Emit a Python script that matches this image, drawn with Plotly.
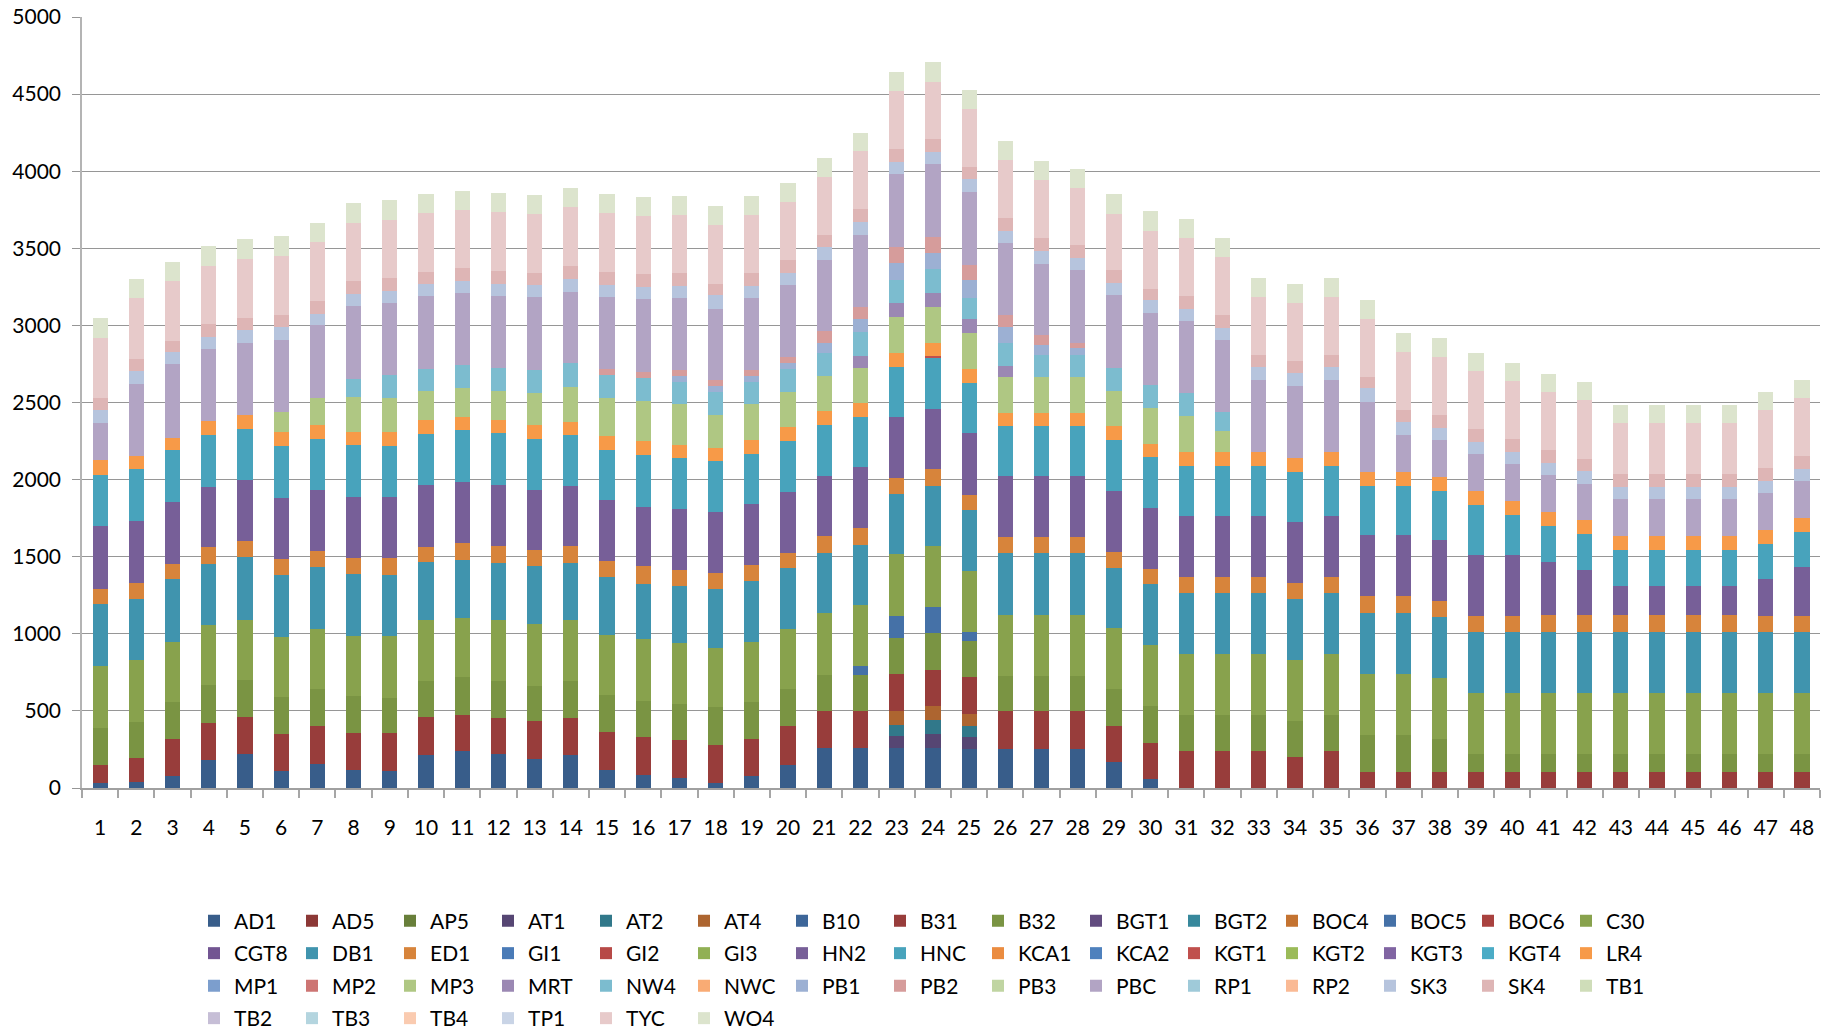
import plotly.graph_objects as go

# ---------------- data ----------------
categories = ["1", "2", "3", "4", "5", "6", "7", "8", "9", "10", "11", "12",
              "13", "14", "15", "16", "17", "18", "19", "20", "21", "22", "23", "24",
              "25", "26", "27", "28", "29", "30", "31", "32", "33", "34", "35", "36",
              "37", "38", "39", "40", "41", "42", "43", "44", "45", "46", "47", "48"]

series_names = ["AD1", "AD5", "AP5", "AT1", "AT2", "AT4", "B10", "B31", "B32", "BGT1",
                "BGT2", "BOC4", "BOC5", "BOC6", "C30", "CGT8", "DB1", "ED1", "GI1", "GI2",
                "GI3", "HN2", "HNC", "KCA1", "KCA2", "KGT1", "KGT2", "KGT3", "KGT4", "LR4",
                "MP1", "MP2", "MP3", "MRT", "NW4", "NWC", "PB1", "PB2", "PB3", "PBC",
                "RP1", "RP2", "SK3", "SK4", "TB1", "TB2", "TB3", "TB4", "TP1", "TYC", "WO4"]

AD1 = [35, 40, 81, 182, 222, 111, 153, 116, 110, 213, 239, 218,
       186, 213, 116, 83, 62, 35, 75, 149, 258, 258, 258, 258,
       256, 256, 256, 256, 167, 60, 0, 0, 0, 0, 0, 0,
       0, 0, 0, 0, 0, 0, 0, 0, 0, 0, 0, 0]
B31 = [116, 157, 237, 242, 240, 240, 247, 239, 247, 245, 237, 239,
       247, 242, 247, 247, 247, 247, 242, 252, 242, 242, 239, 233,
       241, 244, 244, 244, 238, 232, 237, 237, 237, 198, 237, 107,
       106, 106, 106, 106, 106, 106, 106, 106, 106, 106, 106, 106]
B32 = [240, 232, 242, 242, 240, 240, 239, 242, 229, 239, 242, 239,
       231, 242, 237, 231, 234, 242, 239, 239, 236, 236, 236, 239,
       238, 229, 229, 229, 235, 238, 239, 239, 239, 239, 239, 239,
       240, 210, 117, 117, 117, 117, 117, 117, 117, 117, 117, 117]
C30 = [401, 401, 389, 389, 389, 391, 390, 390, 401, 393, 387, 393,
       398, 393, 393, 403, 395, 387, 394, 391, 398, 398, 401, 398,
       396, 396, 396, 396, 396, 399, 390, 390, 390, 396, 390, 396,
       396, 396, 390, 390, 390, 390, 390, 390, 390, 390, 390, 390]
DB1 = [401, 396, 404, 399, 404, 401, 401, 398, 393, 377, 371, 371,
       377, 371, 377, 360, 371, 377, 394, 394, 388, 391, 391, 388,
       396, 396, 396, 396, 393, 393, 396, 396, 396, 390, 396, 390,
       390, 394, 396, 396, 396, 396, 396, 396, 396, 396, 396, 396]
ED1 = [98, 104, 101, 106, 104, 104, 105, 108, 113, 97, 113, 108,
       102, 108, 102, 113, 108, 108, 99, 102, 112, 109, 102, 112,
       101, 104, 104, 104, 104, 101, 105, 105, 105, 105, 105, 112,
       110, 104, 104, 104, 110, 110, 110, 110, 110, 110, 104, 104]
HN2 = [409, 404, 399, 394, 396, 396, 395, 393, 393, 404, 393, 398,
       390, 387, 398, 387, 393, 393, 398, 391, 388, 394, 398, 388,
       396, 396, 396, 396, 390, 393, 396, 396, 396, 396, 396, 394,
       396, 396, 396, 396, 344, 292, 188, 188, 188, 188, 240, 318]
HNC = [331, 336, 338, 338, 336, 338, 331, 339, 334, 328, 339, 334,
       331, 334, 323, 334, 328, 334, 323, 332, 332, 326, 323, 332,
       325, 325, 325, 325, 331, 328, 323, 323, 323, 323, 323, 319,
       318, 318, 325, 260, 234, 234, 234, 234, 234, 234, 227, 227]
LR4 = [93, 86, 81, 86, 88, 86, 91, 86, 91, 91, 86, 86,
       91, 86, 91, 91, 86, 81, 93, 90, 90, 90, 93, 84,
       92, 89, 89, 89, 92, 89, 91, 91, 91, 91, 91, 91,
       93, 91, 91, 91, 91, 91, 91, 91, 91, 91, 91, 91]
MP3 = [0, 0, 0, 0, 0, 134, 180, 223, 218, 188, 188, 188,
       207, 226, 247, 258, 264, 215, 236, 227, 227, 227, 233, 236,
       232, 232, 232, 232, 226, 232, 235, 137, 0, 0, 0, 0,
       0, 0, 0, 0, 0, 0, 0, 0, 0, 0, 0, 0]
NW4 = [0, 0, 0, 0, 0, 0, 0, 121, 148, 145, 145, 151,
       148, 151, 145, 151, 145, 151, 143, 149, 152, 152, 149, 152,
       140, 149, 143, 143, 149, 149, 150, 125, 0, 0, 0, 0,
       0, 0, 0, 0, 0, 0, 0, 0, 0, 0, 0, 0]
PBC = [245, 467, 475, 472, 470, 467, 468, 473, 471, 473, 468, 468,
       473, 463, 463, 473, 468, 463, 469, 466, 463, 469, 469, 475,
       474, 471, 465, 471, 474, 465, 467, 465, 467, 467, 467, 456,
       238, 242, 240, 240, 240, 234, 240, 240, 240, 240, 240, 240]
SK3 = [83, 83, 81, 78, 81, 83, 75, 75, 78, 75, 81, 75,
       81, 86, 81, 81, 81, 86, 78, 78, 84, 81, 78, 75,
       80, 77, 83, 77, 80, 83, 80, 82, 84, 84, 84, 87,
       87, 78, 78, 80, 78, 84, 78, 78, 78, 78, 78, 78]
SK4 = [78, 78, 73, 78, 76, 78, 86, 86, 81, 81, 81, 86,
       75, 81, 86, 81, 81, 75, 84, 84, 78, 84, 84, 87,
       77, 80, 83, 83, 83, 77, 82, 82, 80, 80, 80, 75,
       76, 84, 84, 82, 84, 78, 84, 84, 84, 84, 84, 84]
TYC = [389, 391, 384, 381, 384, 384, 377, 377, 377, 379, 377, 382,
       385, 382, 382, 377, 377, 382, 376, 376, 376, 376, 376, 370,
       381, 381, 373, 375, 367, 375, 375, 376, 376, 376, 376, 376,
       377, 375, 377, 377, 377, 383, 331, 331, 331, 331, 377, 377]
WO4 = [131, 129, 129, 131, 129, 129, 129, 129, 129, 124, 124, 124,
       121, 124, 124, 124, 124, 124, 124, 124, 124, 121, 124, 124,
       122, 122, 125, 122, 125, 125, 124, 121, 123, 123, 123, 123,
       123, 125, 117, 117, 117, 117, 117, 117, 117, 117, 117, 117]

# series present only in a few columns (category -> value)
AT1 = {"23": 78, "24": 90, "25": 72}
AT2 = {"23": 75, "24": 90, "25": 77}
AT4 = {"23": 87, "24": 93, "25": 72}
BOC5 = {"22": 53, "23": 143, "24": 168, "25": 54}
KGT1 = {"24": 12}
MRT = {"22": 78, "23": 90, "24": 90, "25": 92, "26": 72}
PB1 = {"17": 38, "18": 38, "19": 37, "20": 43, "21": 62, "22": 90, "23": 106,
       "24": 109, "25": 113, "26": 101, "27": 66, "28": 42}
PB2 = {"15": 43, "16": 38, "17": 38, "18": 38, "19": 37, "20": 37, "21": 78,
       "22": 75, "23": 109, "24": 102, "25": 101, "26": 77, "27": 60, "28": 36}

full_series = {"AD1": AD1, "B31": B31, "B32": B32, "C30": C30, "DB1": DB1, "ED1": ED1,
               "HN2": HN2, "HNC": HNC, "LR4": LR4, "MP3": MP3, "NW4": NW4, "PBC": PBC,
               "SK3": SK3, "SK4": SK4, "TYC": TYC, "WO4": WO4}
sparse_series = {"AT1": AT1, "AT2": AT2, "AT4": AT4, "BOC5": BOC5, "KGT1": KGT1,
                 "MRT": MRT, "PB1": PB1, "PB2": PB2}

# ---------------- style ----------------
colors = {
    "AD1": "#385D8A", "AD5": "#8C3836", "AP5": "#687F3A", "AT1": "#564673", "AT2": "#31788A", "AT4": "#AD6530",
    "B10": "#3D6699", "B31": "#983D3B", "B32": "#7A9443", "BGT1": "#624C7F", "BGT2": "#37889C", "BOC4": "#C47331",
    "BOC5": "#4571A7", "BOC6": "#A9423F", "C30": "#88A24D", "CGT8": "#725592", "DB1": "#4094AE", "ED1": "#D7843B",
    "GI1": "#4A7BB7", "GI2": "#B74A47", "GI3": "#91B054", "HN2": "#775F98", "HNC": "#48A3BC", "KCA1": "#EB8C40",
    "KCA2": "#4F81BD", "KGT1": "#C0504D", "KGT2": "#9BBB59", "KGT3": "#8064A2", "KGT4": "#4BACC6", "LR4": "#F79A48",
    "MP1": "#7C9ECD", "MP2": "#CD7573", "MP3": "#AFC783", "MRT": "#9B88B3", "NW4": "#7CBCCF", "NWC": "#F9AB74",
    "PB1": "#9CB0D3", "PB2": "#D69C9B", "PB3": "#C0D5A2", "PBC": "#B2A4C4", "RP1": "#9FCAD9", "RP2": "#FABA95",
    "SK3": "#B6C4DD", "SK4": "#DEB5B5", "TB1": "#CFDDB9", "TB2": "#C6BED6", "TB3": "#B4D5DF", "TB4": "#FACBB0",
    "TP1": "#C9D4E6", "TYC": "#E7CACA", "WO4": "#DCE4CD",
}

FONT = "Lato, Open Sans, DejaVu Sans, sans-serif"
FS = 21
W, H = 1831, 1033
PER_ROW = 15
legend_ids = ["legend", "legend2", "legend3", "legend4"]

fig = go.Figure()
for i, name in enumerate(series_names):
    if name in full_series:
        vals = full_series[name]
    else:
        d = sparse_series.get(name, {})
        vals = [d.get(c, 0) for c in categories]
    fig.add_trace(go.Bar(
        x=categories, y=vals, name=name,
        marker=dict(color=colors[name], line=dict(width=0)),
        legend=legend_ids[i // PER_ROW],
    ))

# legend row centres in pixels from the top of the figure
legend_rows_px = [921, 953.5, 986, 1018.5]
legend_common = dict(
    orientation="h", traceorder="normal",
    xref="container", yref="container",
    x=194 / W, xanchor="left", yanchor="middle",
    entrywidth=53, entrywidthmode="pixels",
    font=dict(family=FONT, size=FS, color="#000000"),
    itemclick=False, itemdoubleclick=False,
    bgcolor="rgba(0,0,0,0)",
)
legend_layout = {}
for lid, py in zip(legend_ids, legend_rows_px):
    legend_layout[lid] = dict(legend_common, y=1 - py / H)

fig.update_layout(
    width=W, height=H,
    barmode="stack", bargap=0.58,
    plot_bgcolor="white", paper_bgcolor="white",
    margin=dict(l=82, r=11, t=17, b=245),
    font=dict(family=FONT, size=FS, color="#000000"),
    showlegend=True,
    xaxis=dict(
        type="category", tickson="boundaries",
        ticks="outside", ticklen=8, tickcolor="#A6A6A6", tickwidth=1.5,
        showline=True, linecolor="#A0A0A0", linewidth=1.5,
        showgrid=False, ticklabelstandoff=20,
        tickfont=dict(family=FONT, size=FS, color="#000000"),
        automargin=False,
    ),
    yaxis=dict(
        range=[0, 5000], dtick=500, tick0=0, tickformat="d",
        showgrid=True, gridcolor="#969696", gridwidth=1.3,
        ticks="outside", ticklen=8, tickcolor="#969696", tickwidth=1.3,
        showline=True, linecolor="#B4B4B4", linewidth=1.5,
        zeroline=False, ticklabelstandoff=7,
        tickfont=dict(family=FONT, size=FS, color="#000000"),
        automargin=False,
    ),
    **legend_layout,
)

# the page's default 8px body margin would shift the figure; remove it
fig.write_html("out.html", config={"displayModeBar": False},
               post_script="document.body.style.margin='0px';")
